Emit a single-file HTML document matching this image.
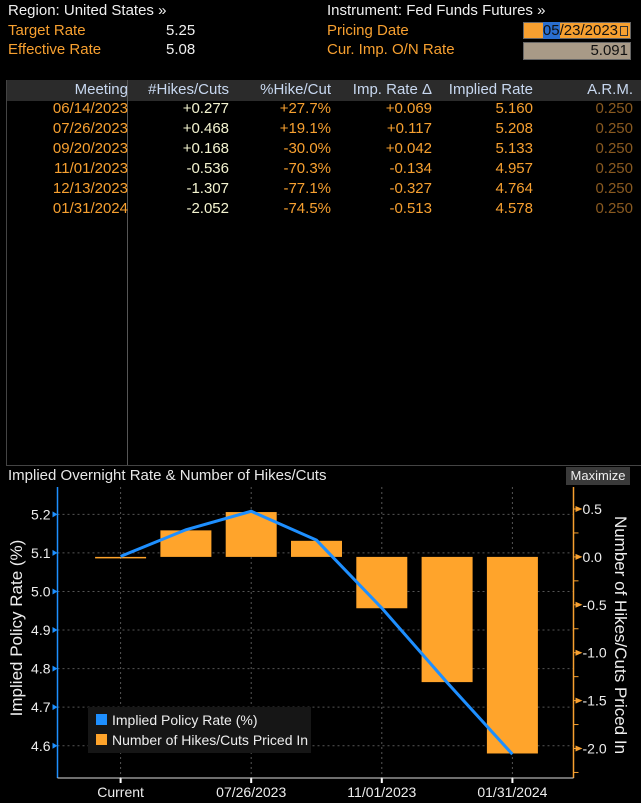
<!DOCTYPE html>
<html><head><meta charset="utf-8"><style>
body{margin:0;background:#000;width:641px;height:803px;overflow:hidden;font-family:"Liberation Sans",sans-serif;position:relative}
.t{position:absolute;font-size:15px;white-space:nowrap;line-height:16px}
.w{color:#f0f0f0}.o{color:#f7a030}
.r{text-align:right}
</style></head><body>
<div class="t w" style="left:8px;top:3px">Region: United States »</div>
<div class="t o" style="left:8px;top:23px">Target Rate</div>
<div class="t w" style="left:166px;top:23px">5.25</div>
<div class="t o" style="left:8px;top:42px">Effective Rate</div>
<div class="t w" style="left:166px;top:42px">5.08</div>
<div class="t w" style="left:327px;top:3px">Instrument: Fed Funds Futures »</div>
<div class="t o" style="left:327px;top:23px">Pricing Date</div>
<div class="t o" style="left:327px;top:42px">Cur. Imp. O/N Rate</div>
<div style="position:absolute;left:523px;top:22px;width:108px;height:17px;background:#f7a030;border:1px solid #666;box-sizing:border-box;font-size:15px;line-height:15px;color:#111;text-align:right;padding-right:12px"><span style="background:#2a6fd0;color:#111">05</span>/23/2023<span style="position:absolute;right:2px;top:3px;width:6px;height:8px;border:1px solid #333"></span></div>
<div style="position:absolute;left:523px;top:42px;width:108px;height:18px;background:#a89a87;border:1px solid #666;box-sizing:border-box;font-size:15px;line-height:16px;color:#111;text-align:right;padding-right:2px">5.091</div>

<div style="position:absolute;left:6px;top:80px;width:635px;height:385px;border-left:1px solid #444;border-bottom:1px solid #444">
<div style="position:absolute;left:0;top:0;width:635px;height:21px;background:#2b2b2b"></div>
<div style="position:absolute;left:120px;top:0;width:1px;height:385px;background:#555"></div>
<div id="tbl"></div>
</div>

<div class="t" style="left:8px;top:468px;color:#e8e8e8">Implied Overnight Rate &amp; Number of Hikes/Cuts</div>
<div style="position:absolute;left:566px;top:467px;width:64px;height:18px;background:#3a3a3a;color:#eee;font-size:13px;line-height:18px;text-align:center">Maximize</div>
<svg id="chart" width="641" height="803" style="position:absolute;left:0;top:0"></svg>

<script>
const meetings=["06/14/2023","07/26/2023","09/20/2023","11/01/2023","12/13/2023","01/31/2024"];
const hikes=["+0.277","+0.468","+0.168","-0.536","-1.307","-2.052"];
const pct=["+27.7%","+19.1%","-30.0%","-70.3%","-77.1%","-74.5%"];
const impDelta=["+0.069","+0.117","+0.042","-0.134","-0.327","-0.513"];
const implied=["5.160","5.208","5.133","4.957","4.764","4.578"];
const arm=["0.250","0.250","0.250","0.250","0.250","0.250"];
const headers=["Meeting","#Hikes/Cuts","%Hike/Cut","Imp. Rate Δ","Implied Rate","A.R.M."];

const categories=["Current","06/14/2023","07/26/2023","09/20/2023","11/01/2023","12/13/2023","01/31/2024"];
const rateValues=[5.091,5.160,5.208,5.133,4.957,4.764,4.578];
const hikeValues=[0,0.277,0.468,0.168,-0.536,-1.307,-2.052];
const leftTicks=["4.6","4.7","4.8","4.9","5.0","5.1","5.2"];
const rightTicks=["-2.0","-1.5","-1.0","-0.5","0.0","0.5"];
const xLabels=["Current","07/26/2023","11/01/2023","01/31/2024"];

const tbl=document.getElementById('tbl');
const rights=[121,222,324,425,526,626];
const cols=[meetings,hikes,pct,impDelta,implied,arm];
const colColors=["#f7a030","#f4f4d0","#f7a030","#f7a030","#f7a030","#8a5a20"];
const colNames=["meeting","hikes-cuts","pct-hike-cut","imp-rate-delta","implied-rate","arm"];
headers.forEach((h,i)=>{const d=document.createElement('div');d.className='t r';d.style.cssText=`right:${635-rights[i]}px;top:2px;color:#c8d8f0`;d.textContent=h;


tbl.appendChild(d);});
meetings.forEach((m,r)=>{cols.forEach((c,i)=>{const d=document.createElement('div');d.className='t r';d.style.cssText=`right:${635-rights[i]}px;top:${21+r*20}px;color:${colColors[i]}`;d.textContent=c[r];


tbl.appendChild(d);});});

const svg=document.getElementById('chart');const NS="http://www.w3.org/2000/svg";
function el(t,a,p){const e=document.createElementNS(NS,t);for(const k in a)e.setAttribute(k,a[k]);(p||svg).appendChild(e);return e;}
const X0=57.5,X1=573.5,YT=487,YB=778;
const xS=i=>120.6+i*65.3;
const yL=v=>552.9-(v-5.1)*385.7;
const yR=v=>556.9-v*95.8;
leftTicks.forEach(t=>{const y=yL(+t);const g=el('line',{x1:X0,x2:X1,y1:y,y2:y,stroke:'#555','stroke-dasharray':'2,3'});
const l=el('text',{x:X0-7,y:y+5,'text-anchor':'end',fill:'#eee','font-size':'14','font-family':'Liberation Sans'});l.textContent=t;
el('path',{d:`M${X0} ${y}l-5 -3v6z`,fill:'#1e90ff'});});
[0,2,4,6].forEach((i,k)=>{const x=xS(i);const g=el('line',{x1:x,x2:x,y1:YT,y2:YB,stroke:'#555','stroke-dasharray':'2,3'});
el('line',{x1:x,x2:x,y1:YB,y2:YB+5,stroke:'#fff','stroke-width':2});
const l=el('text',{x:x,y:YB+19,'text-anchor':'middle',fill:'#eee','font-size':'14','font-family':'Liberation Sans'});l.textContent=xLabels[k];});
for(let v=-2.25;v<=0.5001;v+=0.25){const y=yR(v);el('line',{x1:X1,x2:X1+5,y1:y,y2:y,stroke:'#f7a030'});}
rightTicks.forEach(t=>{const y=yR(+t);el('path',{d:`M${X1+9} ${y}l-7 -3v6z`,fill:'#f7a030'});
const l=el('text',{x:X1+9,y:y+5,fill:'#eee','font-size':'14','font-family':'Liberation Sans'});l.textContent=t;});
el('line',{x1:X0,x2:X0,y1:YT,y2:YB,stroke:'#1e90ff','stroke-width':1.5});
el('line',{x1:X1,x2:X1,y1:YT,y2:YB,stroke:'#f7a030','stroke-width':1.5});
el('line',{x1:X0,x2:X1,y1:YB,y2:YB,stroke:'#ddd','stroke-width':1});
hikeValues.forEach((v,i)=>{const y0=yR(0),y1=yR(v);const h=Math.max(1.5,Math.abs(y1-y0));const b=el('rect',{x:xS(i)-25.5,y:Math.min(y0,y1),width:51,height:h,fill:'#ffa42b'});

});
const ln=el('polyline',{points:rateValues.map((v,i)=>xS(i)+','+yL(v)).join(' '),fill:'none',stroke:'#1e8fff','stroke-width':3});


const lg=el('g',{});
el('rect',{x:88,y:707,width:223,height:46,fill:'#161616'},lg);
el('rect',{x:96,y:714,width:11,height:11,fill:'#1e8fff'},lg);
el('rect',{x:96,y:734,width:11,height:11,fill:'#ffa42b'},lg);
const t1=el('text',{x:112,y:725,fill:'#eee','font-size':'14','font-family':'Liberation Sans'},lg);t1.textContent='Implied Policy Rate (%)';

const t2=el('text',{x:112,y:745,fill:'#eee','font-size':'14','font-family':'Liberation Sans'},lg);t2.textContent='Number of Hikes/Cuts Priced In';

const a1=el('text',{x:0,y:0,transform:'translate(22,628) rotate(-90)','text-anchor':'middle',fill:'#eee','font-size':'17','font-family':'Liberation Sans'});a1.textContent='Implied Policy Rate (%)';

const a2=el('text',{x:0,y:0,transform:'translate(615,635) rotate(90)','text-anchor':'middle',fill:'#eee','font-size':'17','font-family':'Liberation Sans'});a2.textContent='Number of Hikes/Cuts Priced In';

</script>
</body></html>
